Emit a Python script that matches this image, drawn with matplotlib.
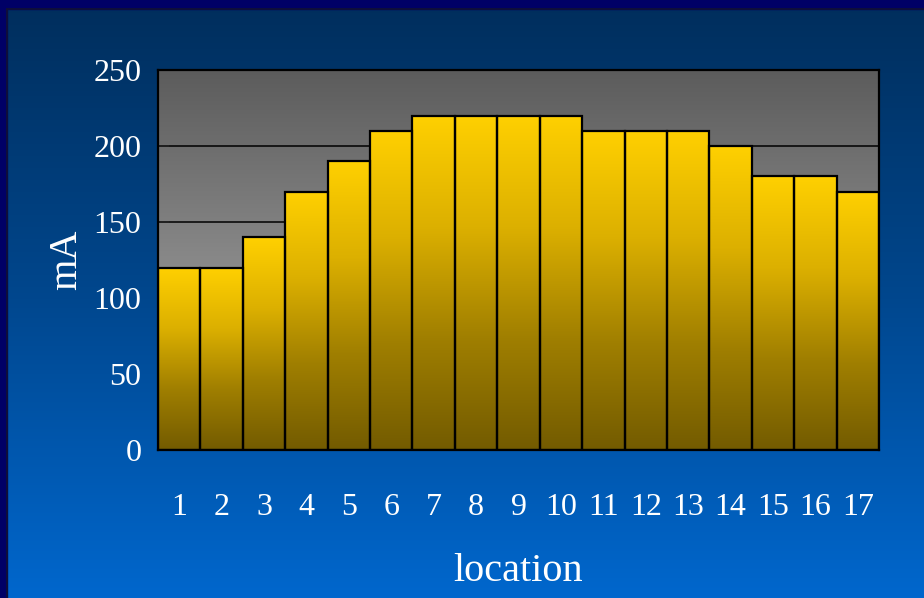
import numpy as np
import matplotlib
matplotlib.use("Agg")
import matplotlib.pyplot as plt
from matplotlib.patches import Rectangle
from matplotlib.colors import LinearSegmentedColormap

# Data
locations = [str(i) for i in range(1, 18)]
current_mA = [120, 120, 140, 170, 190, 210, 220, 220, 220, 220, 210, 210, 210, 200, 180, 180, 170]
y_ticks = [0, 50, 100, 150, 200, 250]

W, H = 924, 598
fig = plt.figure(figsize=(W / 100, H / 100), dpi=100)

# Background gradient
bg = fig.add_axes([0, 0, 1, 1], zorder=-10)
bg.set_axis_off()
bg_cmap = LinearSegmentedColormap.from_list("bg", ["#002e5c", "#00478e", "#0067cd"])
grad = np.linspace(0, 1, 256).reshape(-1, 1)
bg.imshow(grad, aspect="auto", cmap=bg_cmap, extent=[0, W, H, 0])
bg.set_xlim(0, W)
bg.set_ylim(H, 0)
# Border (top and left)
bg.add_patch(Rectangle((0, 0), W, 9, color="#000066", zorder=5))
bg.add_patch(Rectangle((0, 0), 7, H, color="#000066", zorder=5))
bg.plot([7, 7], [9, H], color="#111133", lw=1.2, zorder=6)
bg.plot([7, W], [9, 9], color="#111133", lw=1.2, zorder=6)

# Main axes
left, right, top, bottom = 158, 879, 70, 450
ax = fig.add_axes([left / W, (H - bottom) / H, (right - left) / W, (bottom - top) / H])

# Plot area gray gradient
gray_cmap = LinearSegmentedColormap.from_list("gr", ["#5c5c5c", "#b4b4b4"])
ax.imshow(grad, aspect="auto", cmap=gray_cmap, extent=[0.5, len(current_mA) + 0.5, 0, 250],
          zorder=0)

# Gridlines
for yv in [150, 200]:
    ax.axhline(yv, color="black", lw=1.1, zorder=1)

# Bars with per-bar gradient
bar_cmap = LinearSegmentedColormap.from_list("bar", ["#ffd000", "#dcb000", "#a07f00", "#735b00"])
x = np.arange(1, len(current_mA) + 1)
bars = ax.bar(x, current_mA, width=1.0, facecolor="none", edgecolor="black", lw=1.6, zorder=3)
for b in bars:
    bx, by = b.get_x(), b.get_y()
    bw, bh = b.get_width(), b.get_height()
    im = ax.imshow(grad, aspect="auto", cmap=bar_cmap, extent=[bx, bx + bw, by, by + bh],
                   zorder=2)
    im.set_clip_path(b)
ax.set_xlim(0.5, len(current_mA) + 0.5)
ax.set_ylim(0, 250)

for s in ax.spines.values():
    s.set_color("black")
    s.set_linewidth(1.6)

font = "Liberation Serif"
ax.set_yticks(y_ticks)
ax.set_yticklabels([str(v) for v in y_ticks], fontsize=23, color="white", family=font)
ax.set_xticks(x)
ax.set_xticklabels(locations, fontsize=23, color="white", family=font)
ax.tick_params(axis="y", direction="in", length=8, width=1.2, color="#222222", pad=12)
ax.tick_params(axis="x", length=0, pad=31)

ax.set_xlabel("location", fontsize=29, color="white", family=font, labelpad=22)
ax.set_ylabel("mA", fontsize=29, color="white", family=font, labelpad=6)

fig.savefig("out.png", dpi=100)
